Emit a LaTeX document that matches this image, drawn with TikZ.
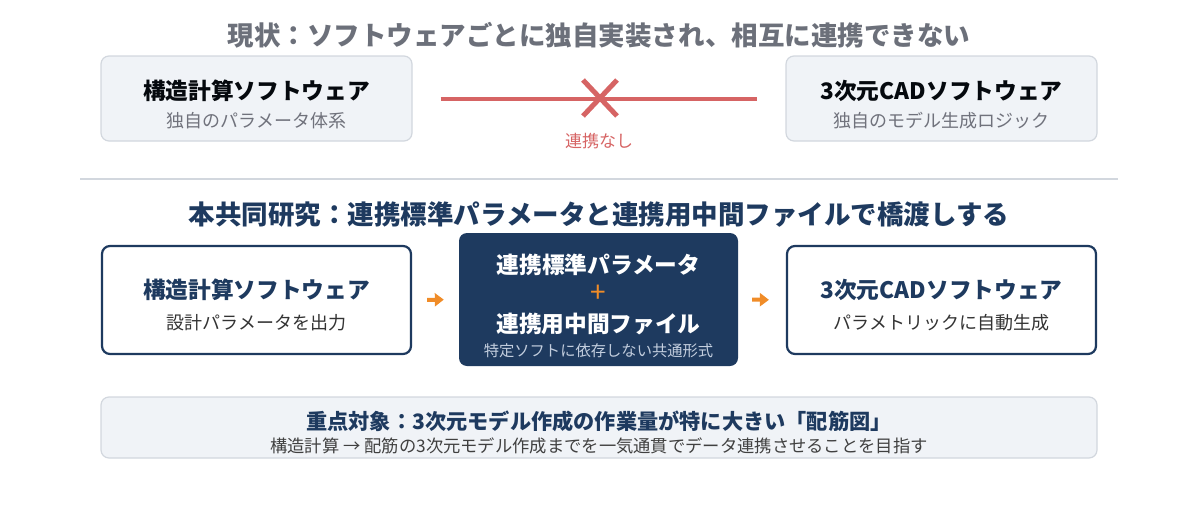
\documentclass[tikz,border=0pt]{standalone}
\usepackage{fontspec}
\setmainfont{Noto Sans CJK JP}
\usetikzlibrary{arrows.meta}
\definecolor{navy}{RGB}{30,58,95}
\definecolor{titlegray}{RGB}{108,112,122}
\definecolor{subgray}{RGB}{112,114,124}
\definecolor{nored}{RGB}{214,100,100}
\definecolor{orng}{RGB}{240,140,40}
\definecolor{lightfill}{RGB}{240,243,247}
\definecolor{lightline}{RGB}{210,215,222}
\definecolor{paletext}{RGB}{195,206,222}
\tikzset{
  softbox/.style={draw=lightline,fill=lightfill,line width=1.2pt,rounded corners=8pt,minimum width=311pt,minimum height=85pt},
  flowbox/.style={draw=navy,fill=white,line width=2.2pt,rounded corners=8pt,minimum width=309pt,minimum height=108pt},
  boxtitle/.style={font=\fontsize{22.7}{26}\selectfont\bfseries,text=black!85!navy,inner sep=0pt},
  boxsub/.style={font=\fontsize{18}{22}\selectfont,inner sep=0pt},
  flowarrow/.style={-{Triangle[length=9pt,width=13pt]},orng,line width=4pt},
  headline/.style={font=\fontsize{26.5}{30}\selectfont\bfseries,inner sep=0pt}
}
\begin{document}
\begin{tikzpicture}[x=1pt,y=-1pt]
	\useasboundingbox (0,0) rectangle (1198,506);
	% current state
	\node[headline,text=titlegray] (head1) at (599,35) {現状：ソフトウェアごとに独自実装され、相互に連携できない};
	\node[softbox] (soft1) at (256.5,98.5) {};
	\node[boxtitle] (soft1t) at (256.5,91) {構造計算ソフトウェア};
	\node[boxsub,text=subgray] (soft1s) at (256.5,121) {独自のパラメータ体系};
	\node[softbox] (soft2) at (941.5,98.5) {};
	\node[boxtitle] (soft2t) at (941.5,91) {3次元CADソフトウェア};
	\node[boxsub,text=subgray] (soft2s) at (941.5,121) {独自のモデル生成ロジック};
	\draw[nored,line width=4pt,shorten <=28pt,shorten >=28pt] (soft1.east) -- (soft2.west);
	\coordinate (cross) at (600,98);
	\draw[nored,line width=5pt] ([shift={(-17,-18)}]cross) -- ([shift={(17,18)}]cross);
	\draw[nored,line width=5pt] ([shift={(17,-18)}]cross) -- ([shift={(-17,18)}]cross);
	\node[font=\fontsize{17}{20}\selectfont,text=nored,inner sep=0pt] (nolink) at (599,141) {連携なし};
	% separator
	\draw[lightline,line width=1.2pt] (80,179) -- (1118,179);
	% this research
	\node[headline,text=navy] (head2) at (599,215) {本共同研究：連携標準パラメータと連携用中間ファイルで橋渡しする};
	\node[flowbox] (flow1) at (256.5,300) {};
	\node[boxtitle,text=navy] (flow1t) at (256.5,290) {構造計算ソフトウェア};
	\node[boxsub,text=black!80] (flow1s) at (256.5,323) {設計パラメータを出力};
	\node[fill=navy,rounded corners=8pt,minimum width=279pt,minimum height=133pt] (mid) at (598.5,299.5) {};
	\node[boxtitle,text=white] (midt1) at (598.5,265) {連携標準パラメータ};
	\node[font=\fontsize{28}{30}\selectfont,text=orng,inner sep=0pt] (plus) at (598.5,294) {+};
	\node[boxtitle,text=white] (midt2) at (598.5,324) {連携用中間ファイル};
	\node[font=\fontsize{15.3}{18}\selectfont,text=paletext,inner sep=0pt] (mids) at (598.5,351) {特定ソフトに依存しない共通形式};
	\node[flowbox] (flow2) at (941.5,300) {};
	\node[boxtitle,text=navy] (flow2t) at (941.5,290) {3次元CADソフトウェア};
	\node[boxsub,text=black!80] (flow2s) at (941.5,323) {パラメトリックに自動生成};
	\draw[flowarrow,shorten <=15pt,shorten >=15pt] (flow1.east) -- (mid.west);
	\draw[flowarrow,shorten <=14pt,shorten >=17pt] (mid.east) -- (flow2.west);
	% focus
	\node[softbox,minimum width=996pt,minimum height=61pt] (focus) at (599,427.5) {};
	\node[font=\fontsize{21.2}{24}\selectfont\bfseries,text=navy,inner sep=0pt] (focust) at (599,421) {重点対象：3次元モデル作成の作業量が特に大きい「配筋図」};
	\node[font=\fontsize{17.3}{20}\selectfont,text=black!75,inner sep=0pt] (focuss) at (599,446) {構造計算 → 配筋の3次元モデル作成までを一気通貫でデータ連携させることを目指す};
\end{tikzpicture}
\end{document}
